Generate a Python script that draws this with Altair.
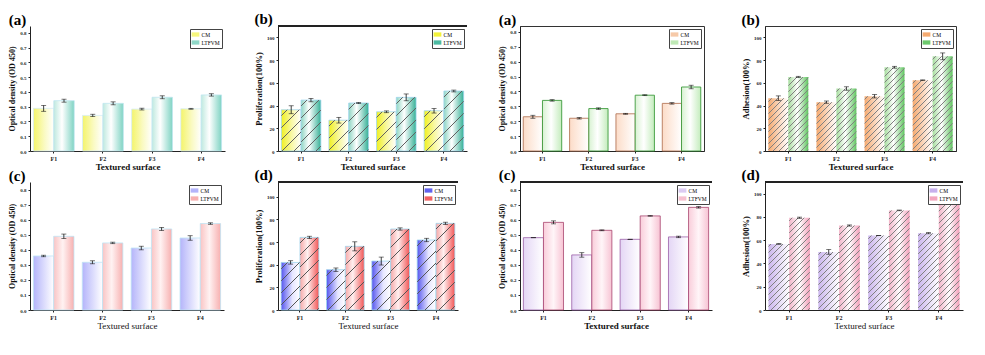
import altair as alt

FONT = "Liberation Serif"
categories = ["F1", "F2", "F3", "F4"]
series = ["CM", "LTFVM"]

# ---- data ----
a1_cm = [0.289, 0.241, 0.284, 0.286]
a1_cm_err = [0.02, 0.008, 0.006, 0.003]
a1_lt = [0.341, 0.323, 0.364, 0.380]
a1_lt_err = [0.01, 0.01, 0.01, 0.008]

b1_cm = [36.3, 27.1, 34.5, 35.4]
b1_cm_err = [3.5, 2.5, 0.8, 2.0]
b1_lt = [44.8, 42.2, 47.2, 52.8]
b1_lt_err = [1.5, 0.5, 3.0, 0.8]

a2_cm = [0.23, 0.22, 0.25, 0.32]
a2_cm_err = [0.01, 0.005, 0.003, 0.005]
a2_lt = [0.34, 0.285, 0.375, 0.43]
a2_lt_err = [0.005, 0.005, 0.003, 0.012]

b2_cm = [46.5, 43.0, 48.2, 62.3]
b2_cm_err = [2.0, 1.0, 1.5, 0.3]
b2_lt = [65.2, 55.0, 73.7, 83.3]
b2_lt_err = [0.5, 1.5, 0.8, 3.0]

c1_cm = [0.36, 0.318, 0.413, 0.48]
c1_cm_err = [0.005, 0.01, 0.012, 0.015]
c1_lt = [0.491, 0.447, 0.54, 0.576]
c1_lt_err = [0.015, 0.005, 0.01, 0.005]

d1_cm = [42.0, 35.6, 43.2, 61.8]
d1_cm_err = [1.5, 1.5, 3.5, 1.5]
d1_lt = [64.1, 56.2, 71.5, 76.5]
d1_lt_err = [1.0, 4.0, 1.0, 1.0]

c2_cm = [0.482, 0.367, 0.471, 0.487]
c2_cm_err = [0.0, 0.015, 0.0, 0.005]
c2_lt = [0.584, 0.531, 0.627, 0.684]
c2_lt_err = [0.01, 0.003, 0.002, 0.005]

d2_cm = [56.8, 49.9, 64.0, 66.0]
d2_cm_err = [0.3, 2.0, 0.0, 0.5]
d2_lt = [79.3, 72.6, 85.6, 92.5]
d2_lt_err = [0.5, 0.5, 0.3, 1.0]

OD_TICKS = [0.0, 0.1, 0.2, 0.3, 0.4, 0.5, 0.6, 0.7, 0.8]
PCT_TICKS = [0, 20, 40, 60, 80, 100]

PI, PO = 0.17, 0.07


def hgrad(stops):
    return {"gradient": "linear", "x1": 0, "y1": 0, "x2": 1, "y2": 0,
            "stops": [{"offset": o, "color": c} for o, c in stops]}


def hatch_grad(w, h, spacing, color, lw=1.0):
    h = max(h, 1.0)
    c0 = (w + h) / (w * w + h * h)
    n = (w + h) / spacing
    clear = "rgba(255,255,255,0)"
    frac = lw / spacing
    stops = [{"offset": 0, "color": clear}]
    i = 0
    while True:
        s = (i + 0.5 - frac / 2) / n
        e = (i + 0.5 + frac / 2) / n
        if s >= 1:
            break
        e = min(e, 1.0)
        stops += [{"offset": s, "color": clear}, {"offset": s, "color": color},
                  {"offset": e, "color": color}, {"offset": e, "color": clear}]
        i += 1
    stops.append({"offset": 1, "color": clear})
    return {"gradient": "linear", "x1": 0, "y1": 0, "x2": w * c0, "y2": h * c0, "stops": stops}


def panel(title, cm, cm_err, lt, lt_err, ymax, ticks, fmt, ytitle, W, H,
          base, edge, edge_w, leg_colors, hatch=None, frame="none", xbold=True,
          ytitle_size=8.5):
    step = W / (len(categories) - PI + 2 * PO)
    bw = step * (1 - PI) / 2
    rows = []
    for i, c in enumerate(categories):
        for s, vals, errs in (("CM", cm, cm_err), ("LTFVM", lt, lt_err)):
            v, e = vals[i], errs[i]
            rec = {"cat": c, "series": s, "value": v, "lo": v - e, "hi": v + e,
                   "base": hgrad(base[s]), "edge": edge[s]}
            if hatch:
                rec["hatch"] = hatch_grad(bw, v / ymax * H, hatch[0], hatch[1])
            rows.append(rec)
    data = alt.Data(values=rows)

    xscale = alt.Scale(domain=categories, paddingInner=PI, paddingOuter=PO)
    yscale = alt.Scale(domain=[0, ymax], nice=False, zero=True)
    off = alt.XOffset("series:N", scale=alt.Scale(domain=series, paddingInner=0, paddingOuter=0))
    xaxis = alt.Axis(title="Textured surface", labelAngle=0, labelFontSize=6,
                     labelFontWeight="bold", tickSize=2, titleFontSize=9 if xbold else 9,
                     titleFontWeight="bold" if xbold else "normal", titlePadding=1,
                     labelPadding=2, labelFont=FONT, titleFont=FONT, grid=False)
    yaxis = alt.Axis(title=ytitle, values=ticks, format=fmt, labelFontSize=5,
                     labelFontWeight="bold", tickSize=2, titleFontSize=ytitle_size,
                     titleFontWeight="bold", titlePadding=3, labelPadding=2,
                     labelFont=FONT, titleFont=FONT, grid=False)

    X = alt.X("cat:N", scale=xscale, axis=xaxis)

    def Y(f):
        return alt.Y(f + ":Q", scale=yscale, axis=yaxis)

    layers = []
    layers.append(alt.Chart().mark_bar(strokeWidth=edge_w).encode(
        x=X, xOffset=off, y=Y("value"),
        fill=alt.Fill("base:N", scale=None),
        stroke=alt.Stroke("edge:N", scale=None)))
    if hatch:
        layers.append(alt.Chart().mark_bar().encode(
            x=X, xOffset=off, y=Y("value"),
            fill=alt.Fill("hatch:N", scale=None)))
    layers.append(alt.Chart().mark_rule(color="#111", strokeWidth=0.8).encode(
        x=X, xOffset=off, y=Y("lo"), y2="hi:Q"))
    for f in ("hi", "lo"):
        layers.append(alt.Chart().mark_tick(color="#111", thickness=0.8, size=5).encode(
            x=X, xOffset=off, y=Y(f)))
    layers.append(alt.Chart().mark_point(opacity=0, filled=True).encode(
        x=X, xOffset=off, y=Y("value"),
        color=alt.Color("series:N", title=None,
                        scale=alt.Scale(domain=series, range=leg_colors),
                        legend=alt.Legend(orient="top-right", offset=3, padding=1.5,
                                          strokeColor="#444", fillColor="white",
                                          labelFontSize=5.5, labelFont=FONT,
                                          symbolType="M-1,-0.55H1V0.55H-1Z",
                                          symbolSize=60, symbolOpacity=1,
                                          symbolStrokeWidth=0, rowPadding=0,
                                          labelOffset=2))))
    if frame == "top":
        layers.append(alt.Chart().mark_rule(color="#222", strokeWidth=1.2).encode(
            y=alt.value(0)))

    stroke = "#333" if frame == "full" else "transparent"
    return alt.layer(*layers, data=data).properties(
        width=W, height=H,
        view=alt.ViewBackground(stroke=stroke, strokeWidth=1),
        title=alt.TitleParams(title, anchor="start", frame="bounds", fontSize=15,
                              font=FONT, fontWeight="bold", offset=-2))


OD = "Optical density (OD 450)"
PR = "Proliferation(100%)"
AD = "Adhesion(100%)"

p1 = panel("(a)", a1_cm, a1_cm_err, a1_lt, a1_lt_err, 0.847, OD_TICKS, ".1f", OD, 195, 125,
           {"CM": [(0, "#f4f46a"), (0.55, "#fafac4"), (1, "#ffffff")],
            "LTFVM": [(0, "#bfe9df"), (0.4, "#ffffff"), (1, "#7fd3c3")]},
           {"CM": "#d6ecf6", "LTFVM": "#bfe6f0"}, 0.8, ["#f6f67c", "#8fd8c8"],
           ytitle_size=8)
p2 = panel("(b)", b1_cm, b1_cm_err, b1_lt, b1_lt_err, 110, PCT_TICKS, "d", PR, 189, 125,
           {"CM": [(0, "#f0f020"), (0.5, "#f8f8a0"), (1, "#ffffff")],
            "LTFVM": [(0, "#8fd6c4"), (0.4, "#ffffff"), (1, "#35b096")]},
           {"CM": "#9fd6ee", "LTFVM": "#9fd6ee"}, 0.8, ["#f2f23a", "#4cbaa2"],
           hatch=(12, "#606060"), frame="top")
p3 = panel("(a)", a2_cm, a2_cm_err, a2_lt, a2_lt_err, 0.84, OD_TICKS, ".1f", OD, 184, 125,
           {"CM": [(0, "#fcdcc8"), (1, "#ffffff")],
            "LTFVM": [(0, "#d8f2d2"), (0.45, "#ffffff"), (1, "#c4ecbd")]},
           {"CM": "#b5785a", "LTFVM": "#3d9b3d"}, 0.9, ["#f6c9a8", "#bfe9b6"],
           frame="full", ytitle_size=8)
p4 = panel("(b)", b2_cm, b2_cm_err, b2_lt, b2_lt_err, 110, PCT_TICKS, "d", AD, 191, 125,
           {"CM": [(0, "#f5a96f"), (0.7, "#fde6d6"), (1, "#ffffff")],
            "LTFVM": [(0, "#a5dd9d"), (0.45, "#ffffff"), (1, "#5ec45e")]},
           {"CM": "transparent", "LTFVM": "transparent"}, 0, ["#f5a96f", "#6cc86c"],
           hatch=(6, "#808080"), frame="full")

p5 = panel("(c)", c1_cm, c1_cm_err, c1_lt, c1_lt_err, 0.853, OD_TICKS, ".1f", OD, 194, 128,
           {"CM": [(0, "#b4b4fa"), (1, "#ffffff")],
            "LTFVM": [(0, "#f9c4c4"), (0.45, "#fff2f2"), (1, "#f7b0b0")]},
           {"CM": "#bfe4f5", "LTFVM": "#bfe4f5"}, 0.8, ["#b4b4fa", "#f7b0b0"],
           xbold=False, ytitle_size=8)
p6 = panel("(d)", d1_cm, d1_cm_err, d1_lt, d1_lt_err, 113, PCT_TICKS, "d", PR, 180, 128,
           {"CM": [(0, "#5555ee"), (0.6, "#e6e6ff"), (1, "#ffffff")],
            "LTFVM": [(0, "#f6a8a8"), (0.4, "#fff0f0"), (1, "#f25555")]},
           {"CM": "#9fd6ee", "LTFVM": "#9fd6ee"}, 0.8, ["#6262ee", "#f26262"],
           hatch=(12, "#555555"), frame="top", xbold=False)
p7 = panel("(c)", c2_cm, c2_cm_err, c2_lt, c2_lt_err, 0.853, OD_TICKS, ".1f", OD, 192, 128,
           {"CM": [(0, "#e4d6f5"), (1, "#ffffff")],
            "LTFVM": [(0, "#f9cdda"), (0.5, "#fff5f8"), (1, "#f7c3d3")]},
           {"CM": "#9b5fa8", "LTFVM": "#a8456e"}, 0.8, ["#dccbf2", "#f6c0d0"],
           frame="top", ytitle_size=8)
p8 = panel("(d)", d2_cm, d2_cm_err, d2_lt, d2_lt_err, 110, PCT_TICKS, "d", AD, 198, 128,
           {"CM": [(0, "#cbb6ee"), (1, "#ffffff")],
            "LTFVM": [(0, "#f3b5c9"), (0.5, "#ffffff"), (1, "#f39fba")]},
           {"CM": "transparent", "LTFVM": "transparent"}, 0, ["#c7b0ec", "#f3a6be"],
           hatch=(6, "#808080"), frame="top", xbold=False)

res = dict(x="independent", y="independent", color="independent", xOffset="independent")
chart = alt.concat(p1, p2, p3, p4, p5, p6, p7, p8, columns=4,
                   spacing={"row": 31, "column": 53}, bounds="flush", align="none"
                   ).resolve_scale(**res).properties(
    padding={"left": 0, "top": 3, "right": 0, "bottom": 0},
    background="white"
).configure_axis(
    labelFont=FONT, titleFont=FONT, grid=False, domainColor="#222", tickColor="#222",
    labelColor="#222", titleColor="#111"
).configure_title(font=FONT)

chart.save("out.html", embed_options={"renderer": "svg", "actions": False})
